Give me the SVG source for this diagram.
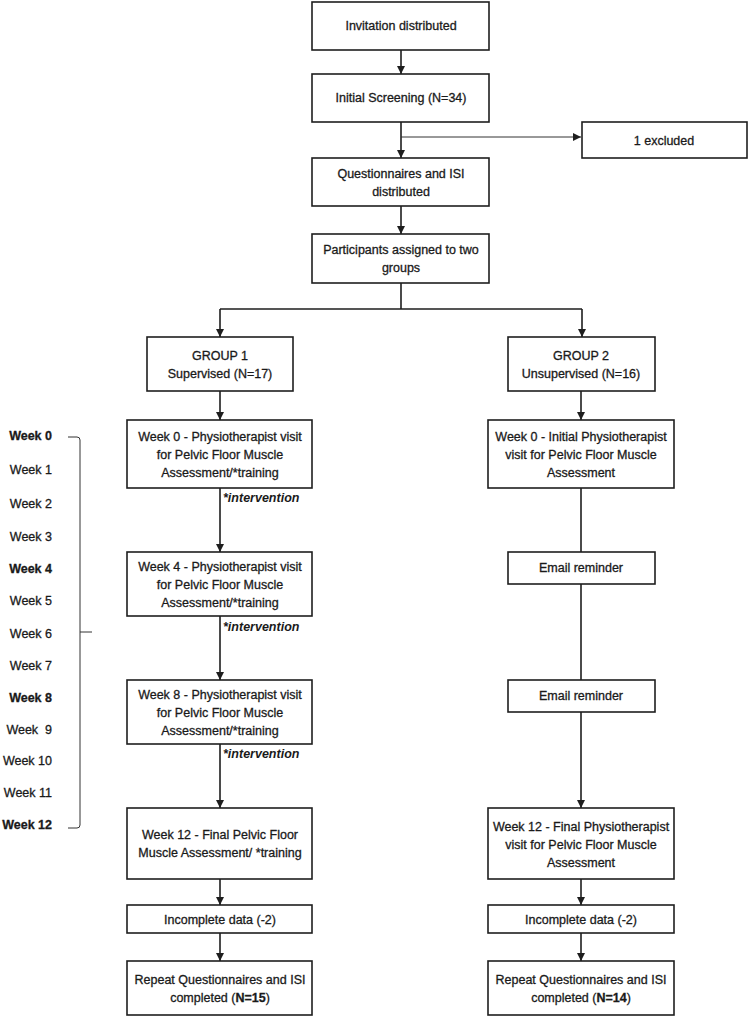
<svg xmlns="http://www.w3.org/2000/svg" width="749" height="1018" viewBox="0 0 749 1018">
<style>
.b{fill:#fff;stroke:#1e1e1e;stroke-width:1.6}
.t{font-family:"Liberation Sans",Arial,sans-serif;font-size:12.5px;fill:#1a1a1a;stroke:#1a1a1a;stroke-width:0.3;text-anchor:middle}
.w{font-family:"Liberation Sans",Arial,sans-serif;font-size:12.5px;fill:#1a1a1a;stroke:#1a1a1a;stroke-width:0.3;text-anchor:end}
.wb{font-weight:bold}
.iv{font-family:"Liberation Sans",Arial,sans-serif;font-size:12.5px;font-style:italic;font-weight:bold;fill:#1a1a1a}
.c{fill:none;stroke:#1e1e1e;stroke-width:1.6}
.thin{fill:none;stroke:#333;stroke-width:1}
</style>
<defs>
<marker id="ah" viewBox="0 0 10 10" refX="10" refY="5" markerWidth="8" markerHeight="8" markerUnits="userSpaceOnUse" orient="auto">
<path d="M0,0 L10,5 L0,10 z" fill="#1e1e1e"/>
</marker>
</defs>
<rect width="749" height="1018" fill="#fff"/>

<g id="connectors">
<path class="c" d="M401,50 V74" marker-end="url(#ah)"/>
<path class="c" d="M401,122 V158" marker-end="url(#ah)"/>
<path class="thin" d="M401,137 H581" marker-end="url(#ah)"/>
<path class="c" d="M401,206 V234" marker-end="url(#ah)"/>
<path class="c" d="M401,283 V309 M220,309 H582"/>
<path class="c" d="M220,309 V337" marker-end="url(#ah)"/>
<path class="c" d="M582,309 V337" marker-end="url(#ah)"/>
<path class="c" d="M220,391 V420" marker-end="url(#ah)"/>
<path class="c" d="M220,488 V552" marker-end="url(#ah)"/>
<path class="c" d="M220,616 V680" marker-end="url(#ah)"/>
<path class="c" d="M220,744 V808" marker-end="url(#ah)"/>
<path class="c" d="M220,879 V905" marker-end="url(#ah)"/>
<path class="c" d="M220,933 V961" marker-end="url(#ah)"/>
<path class="c" d="M581,391 V420" marker-end="url(#ah)"/>
<path class="c" d="M581,488 V552"/>
<path class="c" d="M581,584 V680"/>
<path class="c" d="M581,712 V808" marker-end="url(#ah)"/>
<path class="c" d="M581,879 V905" marker-end="url(#ah)"/>
<path class="c" d="M581,933 V961" marker-end="url(#ah)"/>
<text class="iv" x="223" y="502">*intervention</text>
<text class="iv" x="223" y="631">*intervention</text>
<text class="iv" x="223" y="758">*intervention</text>
</g>

<g id="timeline">
<path class="thin" d="M68,437 H77 Q80,437 80,440 V825 Q80,828 77,828 H68 M80,632 H92"/>
<text class="w wb" x="52" y="440">Week 0</text>
<text class="w" x="52" y="474">Week 1</text>
<text class="w" x="52" y="508">Week 2</text>
<text class="w" x="52" y="541">Week 3</text>
<text class="w wb" x="52" y="573">Week 4</text>
<text class="w" x="52" y="605">Week 5</text>
<text class="w" x="52" y="638">Week 6</text>
<text class="w" x="52" y="670">Week 7</text>
<text class="w wb" x="52" y="702">Week 8</text>
<text class="w" x="52" y="734" xml:space="preserve">Week  9</text>
<text class="w" x="52" y="765">Week 10</text>
<text class="w" x="52" y="797">Week 11</text>
<text class="w wb" x="52" y="829">Week 12</text>
</g>

<g id="invitation"><rect class="b" x="312" y="2" width="177" height="48"/><text class="t" x="401" y="30">Invitation distributed</text></g>
<g id="screening"><rect class="b" x="312" y="74" width="177" height="48"/><text class="t" x="401" y="102">Initial Screening (N=34)</text></g>
<g id="excluded"><rect class="b" x="582" y="122" width="165" height="36"/><text class="t" x="664" y="145">1 excluded</text></g>
<g id="questionnaires"><rect class="b" x="312" y="158" width="177" height="48"/><text class="t" x="401" y="178">Questionnaires and ISI</text><text class="t" x="401" y="196">distributed</text></g>
<g id="assigned"><rect class="b" x="312" y="234" width="177" height="49"/><text class="t" x="401" y="254">Participants assigned to two</text><text class="t" x="401" y="272">groups</text></g>

<g id="group1"><rect class="b" x="147" y="337" width="146" height="54"/><text class="t" x="220" y="360">GROUP 1</text><text class="t" x="220" y="378">Supervised (N=17)</text></g>
<g id="g1w0"><rect class="b" x="127" y="420" width="185" height="68"/><text class="t" x="220" y="441">Week 0 - Physiotherapist visit</text><text class="t" x="220" y="459">for Pelvic Floor Muscle</text><text class="t" x="220" y="477">Assessment/*training</text></g>
<g id="g1w4"><rect class="b" x="127" y="552" width="185" height="64"/><text class="t" x="220" y="571">Week 4 - Physiotherapist visit</text><text class="t" x="220" y="589">for Pelvic Floor Muscle</text><text class="t" x="220" y="607">Assessment/*training</text></g>
<g id="g1w8"><rect class="b" x="127" y="680" width="185" height="64"/><text class="t" x="220" y="699">Week 8 - Physiotherapist visit</text><text class="t" x="220" y="717">for Pelvic Floor Muscle</text><text class="t" x="220" y="735">Assessment/*training</text></g>
<g id="g1w12"><rect class="b" x="127" y="808" width="185" height="71"/><text class="t" x="220" y="839">Week 12 - Final Pelvic Floor</text><text class="t" x="220" y="857">Muscle Assessment/ *training</text></g>
<g id="g1inc"><rect class="b" x="127" y="905" width="185" height="28"/><text class="t" x="220" y="924">Incomplete data (-2)</text></g>
<g id="g1rep"><rect class="b" x="127" y="961" width="185" height="54"/><text class="t" x="220" y="984">Repeat Questionnaires and ISI</text><text class="t" x="220" y="1002">completed (<tspan font-weight="bold">N=15</tspan>)</text></g>

<g id="group2"><rect class="b" x="508" y="337" width="147" height="54"/><text class="t" x="581" y="360">GROUP 2</text><text class="t" x="581" y="378">Unsupervised (N=16)</text></g>
<g id="g2w0"><rect class="b" x="488" y="420" width="186" height="68"/><text class="t" x="581" y="441">Week 0 - Initial Physiotherapist</text><text class="t" x="581" y="459">visit for Pelvic Floor Muscle</text><text class="t" x="581" y="477">Assessment</text></g>
<g id="email1"><rect class="b" x="508" y="552" width="147" height="32"/><text class="t" x="581" y="572">Email reminder</text></g>
<g id="email2"><rect class="b" x="508" y="680" width="147" height="32"/><text class="t" x="581" y="700">Email reminder</text></g>
<g id="g2w12"><rect class="b" x="488" y="808" width="186" height="71"/><text class="t" x="581" y="831">Week 12 - Final Physiotherapist</text><text class="t" x="581" y="849">visit for Pelvic Floor Muscle</text><text class="t" x="581" y="867">Assessment</text></g>
<g id="g2inc"><rect class="b" x="488" y="905" width="186" height="28"/><text class="t" x="581" y="924">Incomplete data (-2)</text></g>
<g id="g2rep"><rect class="b" x="488" y="961" width="186" height="54"/><text class="t" x="581" y="984">Repeat Questionnaires and ISI</text><text class="t" x="581" y="1002">completed (<tspan font-weight="bold">N=14</tspan>)</text></g>
</svg>
